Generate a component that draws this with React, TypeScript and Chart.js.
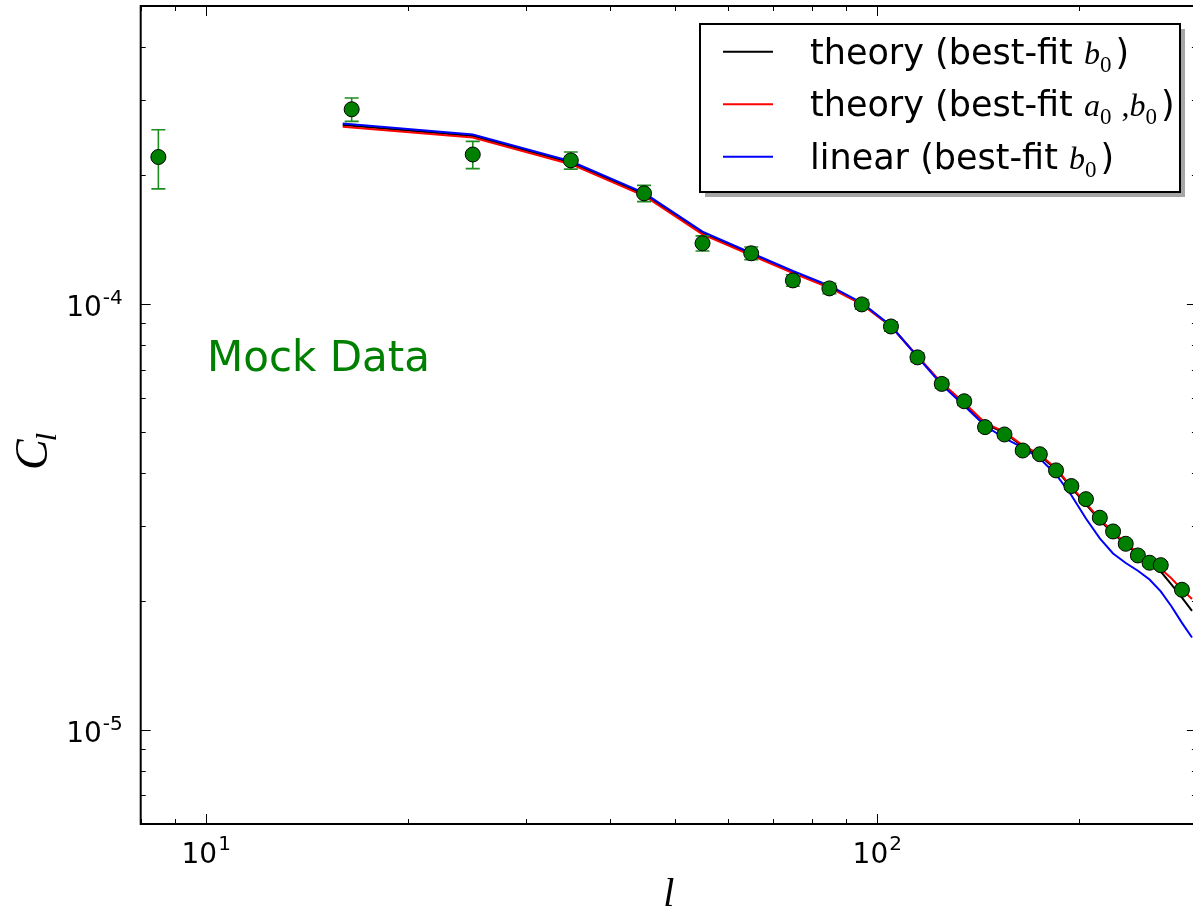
import React, { useEffect, useRef } from "react";
import { Chart, registerables } from "chart.js";

Chart.register(...registerables);

// ---- data ----
const lineL = [16, 25, 35, 45, 55, 65, 75, 85, 95, 105, 115, 125, 135, 145, 155, 165, 175, 185, 195, 205, 215, 225, 235, 245, 255, 265, 275, 285, 295];
const theoryB0 = [2.628e-4, 2.476e-4, 2.144e-4, 1.806e-4, 1.465e-4, 1.306e-4, 1.186e-4, 1.096e-4, 1.0e-4, 0.886e-4, 0.753e-4, 0.65e-4, 0.582e-4, 0.521e-4, 0.498e-4, 0.462e-4, 0.44e-4, 0.408e-4, 0.37e-4, 0.338e-4, 0.31e-4, 0.289e-4, 0.272e-4, 0.258e-4, 0.247e-4, 0.235e-4, 0.219e-4, 0.204e-4, 0.19e-4];
const theoryA0B0 = [2.604e-4, 2.456e-4, 2.126e-4, 1.792e-4, 1.455e-4, 1.298e-4, 1.18e-4, 1.09e-4, 0.996e-4, 0.884e-4, 0.752e-4, 0.651e-4, 0.585e-4, 0.525e-4, 0.5e-4, 0.465e-4, 0.443e-4, 0.41e-4, 0.372e-4, 0.34e-4, 0.312e-4, 0.291e-4, 0.274e-4, 0.26e-4, 0.249e-4, 0.2385e-4, 0.2263e-4, 0.2133e-4, 0.2025e-4];
const linearB0 = [2.648e-4, 2.495e-4, 2.16e-4, 1.82e-4, 1.476e-4, 1.315e-4, 1.193e-4, 1.102e-4, 1.004e-4, 0.887e-4, 0.75e-4, 0.645e-4, 0.576e-4, 0.517e-4, 0.483e-4, 0.459e-4, 0.433e-4, 0.397e-4, 0.355e-4, 0.313e-4, 0.281e-4, 0.259e-4, 0.246e-4, 0.236e-4, 0.225e-4, 0.211e-4, 0.1945e-4, 0.178e-4, 0.1645e-4];

const dataL = [8.5, 16.5, 25, 35, 45, 55, 65, 75, 85, 95, 105, 115, 125, 135, 145, 155, 165, 175, 185, 195, 205, 215, 225, 235, 245, 255, 265, 285];
const dataC = [2.21e-4, 2.86e-4, 2.24e-4, 2.17e-4, 1.816e-4, 1.386e-4, 1.313e-4, 1.134e-4, 1.086e-4, 0.996e-4, 0.884e-4, 0.748e-4, 0.648e-4, 0.59e-4, 0.513e-4, 0.493e-4, 0.452e-4, 0.443e-4, 0.406e-4, 0.373e-4, 0.3475e-4, 0.3143e-4, 0.2918e-4, 0.273e-4, 0.2563e-4, 0.2464e-4, 0.2432e-4, 0.2129e-4];
const dataErr = [0.35e-4, 0.18e-4, 0.165e-4, 0.1e-4, 0.08e-4, 0.057e-4, 0.045e-4, 0.035e-4, 0.03e-4, 0.026e-4, 0.022e-4, 0.018e-4, 0.015e-4, 0.013e-4, 0.011e-4, 0.01e-4, 0.009e-4, 0.008e-4, 0.0075e-4, 0.007e-4, 0.0065e-4, 0.006e-4, 0.0055e-4, 0.005e-4, 0.005e-4, 0.0045e-4, 0.0045e-4, 0.004e-4];

const xMajorTicks = [10, 100];
const xMajorExp = ["1", "2"];
const xMinorTicks = [8, 9, 20, 30, 40, 50, 60, 70, 80, 90, 200, 300];
const yMajorTicks = [1e-5, 1e-4];
const yMajorExp = ["-5", "-4"];
const yMinorTicks = [6e-6, 7e-6, 8e-6, 9e-6, 2e-5, 3e-5, 4e-5, 5e-5, 6e-5, 7e-5, 8e-5, 9e-5, 2e-4, 3e-4, 4e-4, 5e-4];

const legendLabels = [
  { color: "#000000", parts: [{ t: "theory (best-fit " }, { m: "b", s: "0" }, { t: ")" }] },
  { color: "#ff0000", parts: [{ t: "theory (best-fit " }, { m: "a", s: "0" }, { c: "," }, { m: "b", s: "0" }, { t: ")" }] },
  { color: "#0000ff", parts: [{ t: "linear (best-fit " }, { m: "b", s: "0" }, { t: ")" }] },
];

const SANS = "'DejaVu Sans', 'Bitstream Vera Sans', sans-serif";
const SERIF = "'Liberation Serif', 'DejaVu Serif', serif";

const mplPlugin = {
  id: "mplLook",
  beforeDatasetDraw(chart: any, args: any) {
    if (args.index !== 0) return;
    const ctx = chart.ctx;
    const xs = chart.scales.x;
    const ys = chart.scales.y;
    ctx.save();
    ctx.strokeStyle = "#1e8c1e";
    ctx.lineWidth = 1.6;
    for (let i = 0; i < dataL.length; i++) {
      const px = xs.getPixelForValue(dataL[i]);
      const top = ys.getPixelForValue(dataC[i] + dataErr[i]);
      const bot = ys.getPixelForValue(dataC[i] - dataErr[i]);
      ctx.beginPath();
      ctx.moveTo(px, top);
      ctx.lineTo(px, bot);
      ctx.moveTo(px - 7, top);
      ctx.lineTo(px + 7, top);
      ctx.moveTo(px - 7, bot);
      ctx.lineTo(px + 7, bot);
      ctx.stroke();
    }
    ctx.restore();
  },
  afterDraw(chart: any) {
    const ctx = chart.ctx;
    const xs = chart.scales.x;
    const ys = chart.scales.y;
    const a = chart.chartArea;
    ctx.save();
    // ticks (inward, all four sides)
    ctx.strokeStyle = "#000";
    ctx.lineWidth = 1;
    const tick = (px: number, len: number) => {
      ctx.beginPath();
      ctx.moveTo(px, a.bottom);
      ctx.lineTo(px, a.bottom - len);
      ctx.moveTo(px, a.top);
      ctx.lineTo(px, a.top + len);
      ctx.stroke();
    };
    const ytick = (py: number, len: number) => {
      ctx.beginPath();
      ctx.moveTo(a.left, py);
      ctx.lineTo(a.left + len, py);
      ctx.moveTo(a.right, py);
      ctx.lineTo(a.right - len, py);
      ctx.stroke();
    };
    xMinorTicks.forEach((v) => tick(Math.round(xs.getPixelForValue(v)) + 0.5, 5));
    xMajorTicks.forEach((v) => tick(Math.round(xs.getPixelForValue(v)) + 0.5, 10));
    yMinorTicks.forEach((v) => ytick(Math.round(ys.getPixelForValue(v)) + 0.5, 5));
    yMajorTicks.forEach((v) => ytick(Math.round(ys.getPixelForValue(v)) + 0.5, 10));

    // spines
    ctx.lineWidth = 2;
    ctx.strokeRect(a.left, a.top, a.right - a.left, a.bottom - a.top);

    // tick labels
    ctx.fillStyle = "#000";
    ctx.textBaseline = "alphabetic";
    ctx.textAlign = "left";
    const mainFont = `28px ${SANS}`;
    const supFont = `20px ${SANS}`;
    xMajorTicks.forEach((v, i) => {
      const px = xs.getPixelForValue(v);
      ctx.font = mainFont;
      const w1 = ctx.measureText("10").width;
      ctx.font = supFont;
      const w2 = ctx.measureText(xMajorExp[i]).width;
      const x0 = px - (w1 + w2) / 2;
      const base = a.bottom + 39;
      ctx.font = mainFont;
      ctx.fillText("10", x0, base);
      ctx.font = supFont;
      ctx.fillText(xMajorExp[i], x0 + w1 + 1, base - 13);
    });
    yMajorTicks.forEach((v, i) => {
      const py = ys.getPixelForValue(v);
      ctx.font = supFont;
      const w2 = ctx.measureText(yMajorExp[i]).width;
      ctx.font = mainFont;
      const w1 = ctx.measureText("10").width;
      const xr = a.left - 18;
      const base = py + 12.5;
      ctx.font = mainFont;
      ctx.fillText("10", xr - w2 - w1 - 1, base);
      ctx.font = supFont;
      ctx.fillText(yMajorExp[i], xr - w2, base - 12);
    });

    // axis titles
    ctx.font = `italic 40px ${SERIF}`;
    ctx.textAlign = "center";
    ctx.fillText("l", (a.left + a.right) / 2, 906);

    ctx.save();
    ctx.translate(47, 470);
    ctx.rotate(-Math.PI / 2);
    ctx.textAlign = "left";
    ctx.font = `italic 46px ${SERIF}`;
    ctx.fillText("C", 0, 0);
    const wc = ctx.measureText("C").width;
    ctx.font = `italic 30px ${SERIF}`;
    ctx.fillText("l", wc - 2, 9);
    ctx.restore();

    // annotation
    ctx.textAlign = "left";
    ctx.fillStyle = "#008000";
    ctx.font = `42px ${SANS}`;
    ctx.fillText("Mock Data", 207, 371);

    // legend
    const bx = 700, by = 24, bw = 480, bh = 168;
    ctx.fillStyle = "rgba(0,0,0,0.35)";
    ctx.fillRect(bx + 5, by + 5, bw, bh);
    ctx.fillStyle = "#fff";
    ctx.fillRect(bx, by, bw, bh);
    ctx.strokeStyle = "#000";
    ctx.lineWidth = 2;
    ctx.strokeRect(bx, by, bw, bh);
    legendLabels.forEach((entry, i) => {
      const ly = 51.7 + i * 52.5;
      ctx.strokeStyle = entry.color;
      ctx.lineWidth = 2;
      ctx.beginPath();
      ctx.moveTo(723, ly);
      ctx.lineTo(773, ly);
      ctx.stroke();
      let x = 810;
      const base = 63.5 + i * 52.5;
      ctx.fillStyle = "#000";
      entry.parts.forEach((p: any) => {
        if (p.t !== undefined) {
          ctx.font = `35px ${SANS}`;
          ctx.fillText(p.t, x, base);
          x += ctx.measureText(p.t).width;
        } else if (p.c !== undefined) {
          ctx.font = `32px ${SERIF}`;
          x += 6;
          ctx.fillText(p.c, x, base);
          x += ctx.measureText(p.c).width;
        } else {
          ctx.font = `italic 32px ${SERIF}`;
          ctx.fillText(p.m, x, base);
          x += ctx.measureText(p.m).width;
          ctx.font = `23px ${SERIF}`;
          ctx.fillText(p.s, x, base + 8);
          x += ctx.measureText(p.s).width + 4;
        }
      });
    });
    ctx.restore();
  },
};

export default function App() {
  const ref = useRef<HTMLCanvasElement | null>(null);
  useEffect(() => {
    if (!ref.current) return;
    const toXY = (xsArr: number[], ysArr: number[]) => xsArr.map((x, i) => ({ x, y: ysArr[i] }));
    const chart = new Chart(ref.current, {
      type: "scatter",
      data: {
        datasets: [
          {
            label: "Mock Data",
            data: toXY(dataL, dataC),
            showLine: false,
            pointRadius: 7.5,
            pointBackgroundColor: "#008000",
            pointBorderColor: "#000",
            pointBorderWidth: 1,
          },
          {
            label: "linear (best-fit b0)",
            data: toXY(lineL, linearB0),
            showLine: true,
            borderColor: "#0000ff",
            borderWidth: 2,
            pointRadius: 0,
          },
          {
            label: "theory (best-fit a0,b0)",
            data: toXY(lineL, theoryA0B0),
            showLine: true,
            borderColor: "#ff0000",
            borderWidth: 2,
            pointRadius: 0,
          },
          {
            label: "theory (best-fit b0)",
            data: toXY(lineL, theoryB0),
            showLine: true,
            borderColor: "#000000",
            borderWidth: 2,
            pointRadius: 0,
          },
        ],
      } as any,
      options: {
        animation: false,
        responsive: false,
        maintainAspectRatio: false,
        devicePixelRatio: 1,
        layout: { autoPadding: false, padding: { left: 140.7, right: 3.1, top: 6, bottom: 85 } },
        plugins: { legend: { display: false }, tooltip: { enabled: false } },
        elements: { line: { tension: 0 } },
        scales: {
          x: { type: "logarithmic", min: 8, max: 300, display: false },
          y: { type: "logarithmic", min: 6e-6, max: 5e-4, display: false },
        },
      } as any,
      plugins: [mplPlugin],
    });
    return () => chart.destroy();
  }, []);
  return (
    <div style={{ position: "absolute", left: 0, top: 0, width: 1193, height: 909, overflow: "hidden", background: "#fff" }}>
      <canvas ref={ref} width={1200} height={909} style={{ display: "block", width: 1200, height: 909 }} />
    </div>
  );
}
